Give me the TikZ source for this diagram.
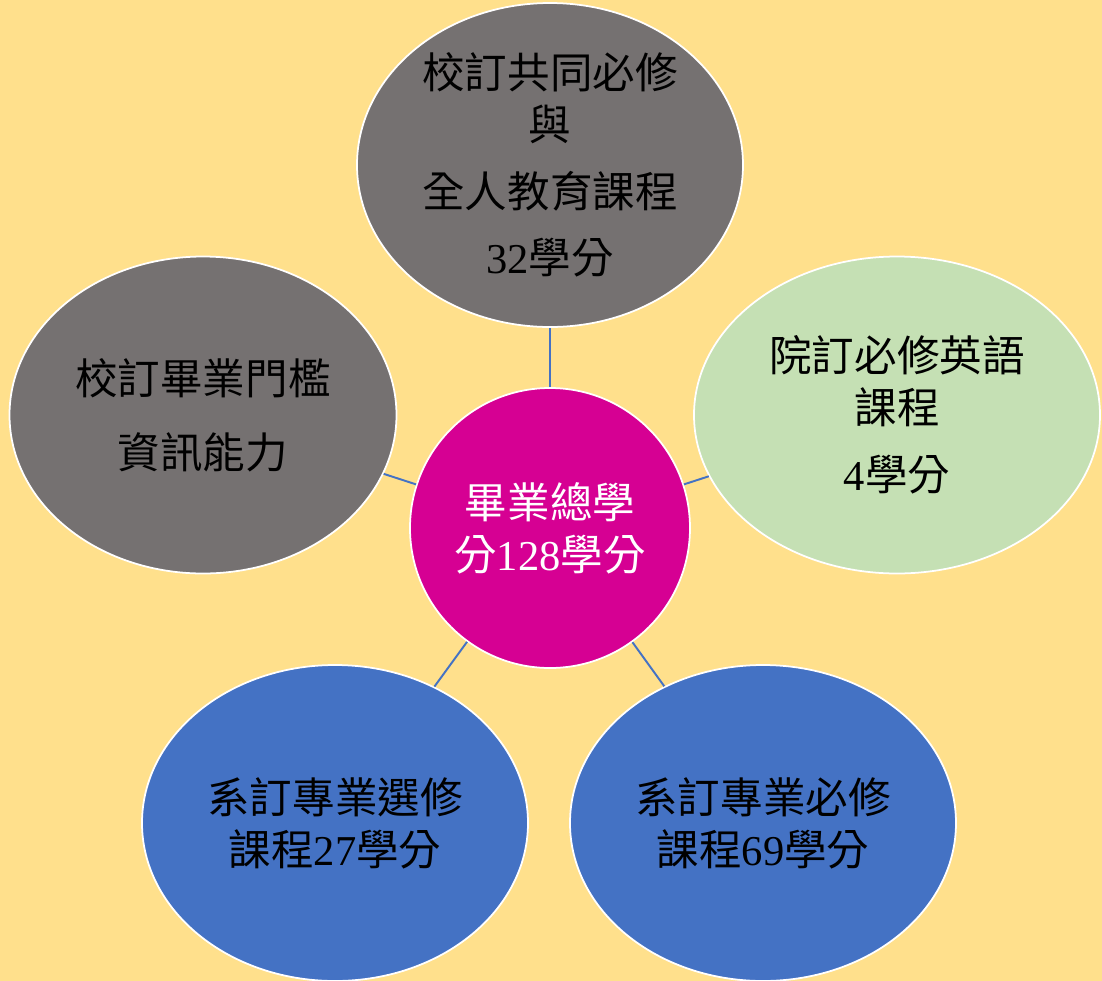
\documentclass[tikz,border=0pt]{standalone}
\usepackage{fontspec}
\setmainfont{Liberation Serif}
\newfontfamily\cjk{Noto Sans CJK TC}
\usetikzlibrary{shapes.geometric}
\definecolor{bgyellow}{HTML}{FFE08C}
\definecolor{greynode}{HTML}{757171}
\definecolor{greennode}{HTML}{C5E0B4}
\definecolor{bluenode}{HTML}{4472C4}
\definecolor{magentanode}{HTML}{D60093}
\newcommand{\num}[1]{\textrm{#1}}

\begin{document}
\begin{tikzpicture}
  \tikzset{
    bubble/.style = {ellipse, draw=white, line width=1pt, inner sep=0pt, align=center,
                     font=\cjk\fontsize{24.2}{29.5}\selectfont},
    hub/.style    = {circle, draw=white, line width=1pt, fill=magentanode, text=white,
                     minimum size=5.6cm, inner sep=0pt, align=center,
                     font=\cjk\fontsize{24.2}{29.5}\selectfont},
    link/.style   = {draw=bluenode, line width=1.1pt}
  }

  \fill[bgyellow] (0,0) rectangle (22.04,-19.62);
  \useasboundingbox (0,0) rectangle (22.04,-19.62);

  \node[hub] (total) at (11.0,-10.56) {畢業總學\\分\num{128}學分};

  \node[bubble, fill=greynode, minimum width=7.72cm, minimum height=6.48cm] (common) at (11.0,-3.3)
    {校訂共同必修\\與\\[0.3cm]全人教育課程\\[0.3cm]\num{32}學分};
  \node[bubble, fill=greynode, minimum width=7.74cm, minimum height=6.34cm] (info) at (4.06,-8.3)
    {校訂畢業門檻\\[0.45cm]資訊能力};
  \node[bubble, fill=greennode, minimum width=8.12cm, minimum height=6.34cm] (english) at (17.94,-8.3)
    {院訂必修英語\\課程\\[0.3cm]\num{4}學分};
  \node[bubble, fill=bluenode, minimum width=7.72cm, minimum height=6.32cm] (elective) at (6.7,-16.46)
    {系訂專業選修\\課程\num{27}學分};
  \node[bubble, fill=bluenode, minimum width=7.72cm, minimum height=6.32cm] (required) at (15.26,-16.46)
    {系訂專業必修\\課程\num{69}學分};

  \draw[link] (total) -- (common);
  \draw[link] (total) -- (info);
  \draw[link] (total) -- (english);
  \draw[link] (total) -- (elective);
  \draw[link] (total) -- (required);
\end{tikzpicture}
\end{document}
